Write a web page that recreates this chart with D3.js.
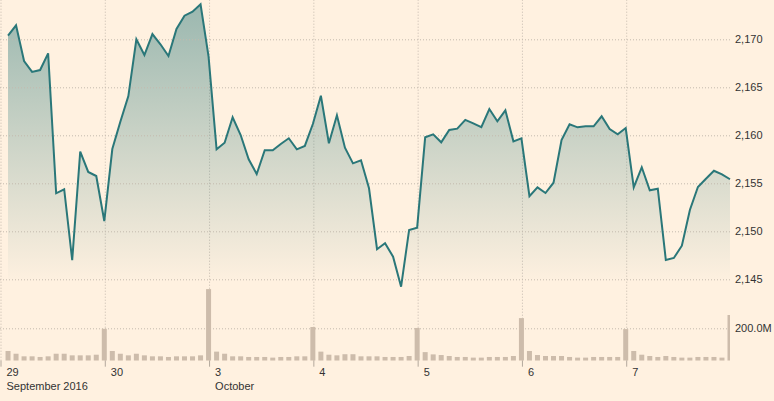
<!DOCTYPE html>
<html>
<head>
<meta charset="utf-8">
<script src="https://cdn.jsdelivr.net/npm/d3@7/dist/d3.min.js"></script>
<style>
  html, body { margin: 0; padding: 0; background: #fff1e0; }
  svg { display: block; }
  text { font-family: "Liberation Sans", Arial, sans-serif; font-size: 11px; fill: #333; }
</style>
</head>
<body>
<svg id="chart" width="774" height="401"></svg>
<script>
// ---- data ----
const prices = [
  2170.38, 2171.46, 2167.74, 2166.60, 2166.80, 2168.54, 2153.96, 2154.38, 2147.00, 2158.30, 2156.18, 2155.76, 2151.07,
  2158.57, 2161.42, 2164.09, 2170.00, 2168.36, 2170.55, 2169.48, 2168.26, 2171.07, 2172.46, 2172.88, 2173.65, 2168.19,
  2158.54, 2159.23, 2161.88, 2160.03, 2157.50, 2155.97, 2158.44, 2158.44, 2159.10, 2159.69, 2158.54, 2158.89, 2161.18,
  2164.13, 2159.17, 2162.08, 2158.71, 2157.08, 2157.40, 2154.48, 2148.13, 2148.75, 2147.36, 2144.23, 2150.14, 2150.38,
  2159.79, 2160.10, 2159.27, 2160.55, 2160.69, 2161.60, 2161.25, 2160.86, 2162.74, 2161.46, 2162.60, 2159.37, 2159.69,
  2153.65, 2154.58, 2153.99, 2155.06, 2159.51, 2161.15, 2160.83, 2160.94, 2160.94, 2161.98, 2160.66, 2160.10, 2160.76,
  2154.58, 2156.67, 2154.27, 2154.44, 2147.01, 2147.22, 2148.50, 2152.22, 2154.61, 2155.48, 2156.31, 2155.94, 2155.42
];
const volumes = [ // millions
  60, 43, 27, 27, 23, 27, 43, 43, 33, 33, 33, 37, 197,
  60, 43, 33, 43, 33, 27, 27, 23, 27, 27, 27, 33, 442,
  56, 43, 27, 27, 23, 23, 23, 19, 23, 23, 27, 27, 208,
  56, 37, 33, 40, 40, 27, 27, 27, 23, 23, 23, 29, 202,
  53, 39, 35, 29, 23, 23, 19, 19, 23, 23, 23, 29, 263,
  60, 35, 29, 29, 29, 23, 19, 19, 23, 23, 23, 23, 195,
  60, 37, 29, 23, 29, 23, 19, 19, 23, 23, 23, 19, 282
];
const dayTickIndex = [0, 13, 26, 39, 52, 65, 78];
const dayLabels = ["29", "30", "3", "4", "5", "6", "7"];
const monthLabels = ["September 2016", "", "October", "", "", "", ""];
const priceTicks = [2145, 2150, 2155, 2160, 2165, 2170];
const volumeTicks = [200];

// ---- layout ----
const svg = d3.select("#chart");
const plotRight = 730;
const priceBottom = 279.3, priceTop = 39.3;
const volBase = 360.7, vol200 = 328.3;
const gridColor = "#c4b9ad";

const x = d3.scaleLinear().domain([0, 91]).range([0, plotRight]);
const y = d3.scaleLinear().domain([2145, 2170]).range([priceBottom, priceTop]);
const yv = d3.scaleLinear().domain([0, 200]).range([volBase, vol200]);

// gradient
const defs = svg.append("defs");
const grad = defs.append("linearGradient").attr("id", "areaGrad")
  .attr("gradientUnits", "userSpaceOnUse")
  .attr("x1", 0).attr("x2", 0).attr("y1", 5).attr("y2", priceBottom);
grad.append("stop").attr("offset", 0).attr("stop-color", "#2a7779").attr("stop-opacity", 0.47);
grad.append("stop").attr("offset", 1).attr("stop-color", "#2a7779").attr("stop-opacity", 0.01);
defs.append("clipPath").attr("id", "plotClip").append("rect")
  .attr("x", 0).attr("y", 0).attr("width", plotRight).attr("height", volBase);

// vertical grid (day boundaries)
const vGrid = svg.append("g").attr("transform", `translate(0,${volBase})`)
  .call(d3.axisBottom(x).tickValues(dayTickIndex).tickSize(-volBase).tickFormat(""));
vGrid.select(".domain").remove();
vGrid.selectAll("line").attr("stroke", gridColor).attr("stroke-dasharray", "1,2")
  .attr("transform", "translate(0.5,0)");

// price area + line
const pts = prices.map((p, i) => ({ i: i + 1, v: p }));
const area = d3.area().x(d => x(d.i)).y0(priceBottom).y1(d => y(d.v));
const line = d3.line().x(d => x(d.i)).y(d => y(d.v));

svg.append("path").datum(pts).attr("d", area).attr("fill", "url(#areaGrad)");

// horizontal price grid + labels
const yAxis = svg.append("g").attr("transform", `translate(${plotRight},0)`)
  .call(d3.axisRight(y).tickValues(priceTicks).tickSize(-plotRight).tickPadding(5)
    .tickFormat(d3.format(",")));
yAxis.select(".domain").remove();
yAxis.selectAll("line").attr("stroke", gridColor).attr("stroke-dasharray", "1,2");
yAxis.selectAll("text").attr("font-size", null).attr("font-family", null).style("fill", "#333");

svg.append("path").datum(pts).attr("d", line)
  .attr("fill", "none").attr("stroke", "#2a7779").attr("stroke-width", 2)
  .attr("stroke-linejoin", "miter");

// volume grid + label
const vAxis = svg.append("g").attr("transform", `translate(${plotRight},0)`)
  .call(d3.axisRight(yv).tickValues(volumeTicks).tickSize(-plotRight).tickPadding(5)
    .tickFormat(d => d3.format(".1f")(d) + "M"));
vAxis.select(".domain").remove();
vAxis.selectAll("line").attr("stroke", gridColor).attr("stroke-dasharray", "1,2");
vAxis.selectAll("text").attr("font-size", null).attr("font-family", null).style("fill", "#333");

// volume bars
svg.append("g").attr("clip-path", "url(#plotClip)")
  .selectAll("rect").data(volumes).join("rect")
  .attr("x", (d, i) => x(i + 1) - 2.5)
  .attr("width", 5)
  .attr("y", d => yv(d))
  .attr("height", d => volBase - yv(d))
  .attr("fill", "#cdbcab");

// x axis ticks + labels
const xAxis = svg.append("g").attr("transform", `translate(0,${volBase})`)
  .call(d3.axisBottom(x).tickValues(dayTickIndex).tickSize(6)
    .tickFormat((d, i) => dayLabels[i]));
xAxis.select(".domain").remove();
xAxis.selectAll("line").attr("stroke", "#b3a89c").attr("transform", "translate(0.5,0)");
xAxis.selectAll("text").attr("font-size", null).attr("font-family", null)
  .style("fill", "#333").attr("text-anchor", "start")
  .attr("x", 6).attr("y", 15).attr("dy", null);
xAxis.selectAll(".tick").each(function(d, i) {
  if (monthLabels[i]) {
    d3.select(this).append("text").text(monthLabels[i])
      .attr("x", 6).attr("y", 29.5).attr("text-anchor", "start").style("fill", "#333");
  }
});
</script>
</body>
</html>
